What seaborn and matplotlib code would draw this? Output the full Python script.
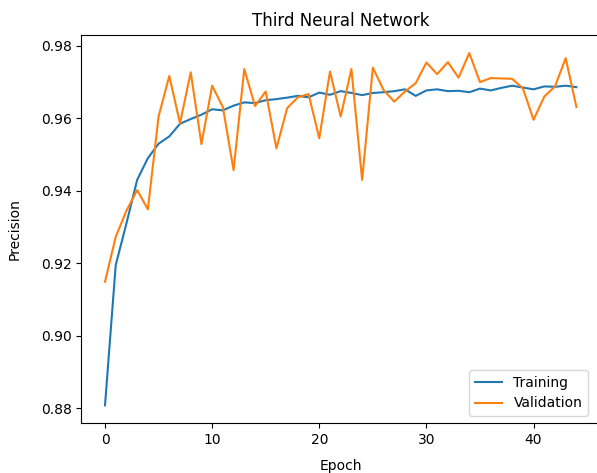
import numpy as np
import pandas as pd
import seaborn as sns
import matplotlib.pyplot as plt

# Precision per epoch
epochs = list(range(45))
training = [0.8808, 0.9195, 0.9310, 0.9430, 0.9490, 0.9530, 0.9550, 0.9585, 0.9598, 0.9610,
            0.9625, 0.9622, 0.9635, 0.9644, 0.9642, 0.9650, 0.9653, 0.9657, 0.9662, 0.9658,
            0.9671, 0.9665, 0.9675, 0.9670, 0.9664, 0.9670, 0.9672, 0.9675, 0.9680, 0.9662,
            0.9677, 0.9680, 0.9675, 0.9676, 0.9672, 0.9682, 0.9677, 0.9684, 0.9690, 0.9685,
            0.9680, 0.9688, 0.9687, 0.9690, 0.9686]
validation = [0.9149, 0.9273, 0.9345, 0.9402, 0.9349, 0.9605, 0.9717, 0.9586, 0.9727, 0.9529,
              0.9690, 0.9631, 0.9457, 0.9736, 0.9634, 0.9674, 0.9517, 0.9628, 0.9658, 0.9667,
              0.9545, 0.9729, 0.9605, 0.9736, 0.9430, 0.9740, 0.9678, 0.9646, 0.9674, 0.9697,
              0.9754, 0.9722, 0.9755, 0.9712, 0.9780, 0.9700, 0.9711, 0.9710, 0.9709, 0.9683,
              0.9596, 0.9660, 0.9688, 0.9766, 0.9631]

df = pd.DataFrame({
    'Epoch': epochs * 2,
    'Precision': training + validation,
    'Set': ['Training'] * len(epochs) + ['Validation'] * len(epochs),
})

fig = plt.figure(figsize=(5.97, 4.73), dpi=100)
ax = fig.add_axes([0.1364, 0.1058, 0.8686, 0.8192])

sns.lineplot(data=df, x='Epoch', y='Precision', hue='Set',
             palette=['#1f77b4', '#ff7f0e'], linewidth=1.5, ax=ax)

ax.set_title('Third Neural Network', fontsize=12, pad=7)
ax.set_xlabel('Epoch', fontsize=10, labelpad=9)
ax.set_ylabel('Precision', fontsize=10, labelpad=14)
ax.tick_params(labelsize=10)
ax.set_xticks([0, 10, 20, 30, 40])
ax.legend(title=None, loc='lower right', fontsize=10, bbox_to_anchor=(0.99, 0.0))

fig.savefig('out.png', dpi=100)
